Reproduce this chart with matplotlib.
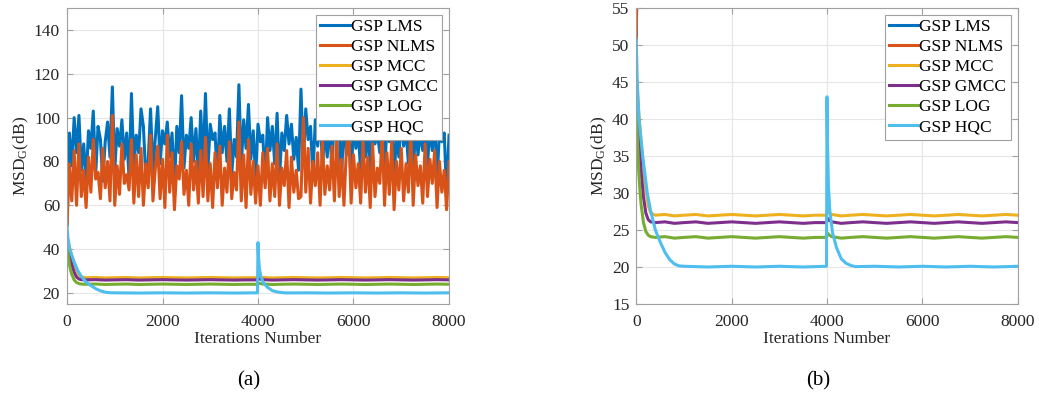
import numpy as np
import matplotlib
matplotlib.use("Agg")
import matplotlib.pyplot as plt

plt.rcParams['font.family'] = ['Liberation Serif', 'DejaVu Serif']
plt.rcParams['mathtext.fontset'] = 'custom'
plt.rcParams['mathtext.rm'] = 'Liberation Serif'
plt.rcParams['mathtext.it'] = 'Liberation Serif:italic'

# noisy algorithms, sampled every 50 iterations (0..8000)
lms_iter = np.arange(0, 8001, 50)
lms = [50.7, 93, 78, 100, 84, 101, 76, 88, 70, 94,
       86, 103, 74, 96, 90, 71, 89, 98, 82, 114,
       76, 95, 87, 99, 81, 93, 72, 111, 78, 92,
       84, 104, 96, 73, 80, 104, 75, 91, 105, 79,
       94, 88, 98, 82, 93, 68, 96, 84, 110, 77,
       92, 86, 100, 80, 95, 73, 103, 79, 111, 76,
       97, 90, 93, 72, 101, 84, 96, 80, 104, 74,
       90, 82, 115, 78, 99, 86, 106, 81, 94, 73,
       97, 89, 92, 70, 100, 85, 96, 79, 102, 72,
       93, 85, 101, 88, 97, 81, 91, 76, 113, 80,
       104, 90, 96, 73, 99, 87, 103, 78, 94, 82,
       100, 74, 107, 91, 95, 72, 101, 83, 97, 70,
       99, 86, 94, 75, 102, 82, 96, 71, 100, 88,
       93, 84, 104, 73, 97, 89, 103, 69, 95, 82,
       100, 87, 94, 79, 106, 72, 98, 83, 93, 85,
       101, 78, 96, 85, 99, 71, 94, 89, 93, 65,
       92]
nlms = [50.7, 79, 62, 85, 60, 88, 64, 76, 59, 82,
        66, 90, 72, 75, 63, 86, 68, 80, 62, 101,
        60, 78, 65, 88, 70, 74, 67, 90, 61, 83,
        64, 86, 60, 79, 68, 92, 62, 77, 87, 63,
        81, 59, 92, 66, 84, 58, 78, 72, 89, 65,
        76, 60, 88, 67, 80, 61, 85, 64, 91, 62,
        79, 59, 84, 68, 87, 60, 77, 66, 89, 63,
        75, 67, 98, 62, 83, 59, 90, 65, 80, 61,
        78, 60, 84, 68, 86, 62, 79, 64, 88, 60,
        77, 69, 85, 59, 82, 66, 76, 63, 64, 100,
        66, 86, 61, 80, 69, 84, 60, 89, 65, 78,
        67, 87, 62, 92, 64, 81, 60, 85, 96, 61,
        83, 68, 79, 61, 90, 66, 82, 59, 88, 64,
        77, 70, 93, 60, 84, 65, 89, 58, 80, 67,
        86, 62, 79, 66, 94, 60, 83, 69, 78, 61,
        88, 64, 81, 70, 85, 59, 80, 66, 76, 58,
        80]

# robust algorithms
conv_iter = [0, 25, 50, 75, 100, 150, 200, 250, 300, 400,
             600, 800, 1000, 1250, 1500, 1750, 2000, 2250, 2500, 2750,
             3000, 3250, 3500, 3750, 3990, 4000, 4025, 4050, 4100, 4200,
             4300, 4500, 4750, 5000, 5250, 5500, 5750, 6000, 6250, 6500,
             6750, 7000, 7250, 7500, 7750, 8000]
mcc = [46.0, 43.5, 41.0, 39.0, 37.0, 33.5, 30.5, 28.3, 27.3, 27.0,
       27.1, 26.9, 27.0, 27.1, 26.9, 27.0, 27.1, 27.0, 26.9, 27.0,
       27.1, 27.0, 26.9, 27.0, 27.0, 27.6, 27.5, 27.3, 27.1, 27.0,
       26.9, 27.0, 27.1, 27.0, 26.9, 27.0, 27.1, 27.0, 26.9, 27.0,
       27.1, 27.0, 26.9, 27.0, 27.1, 27.0]
gmcc = [44.0, 41.0, 38.0, 35.5, 33.0, 29.5, 27.3, 26.4, 26.1, 26.0,
        26.1, 25.9, 26.0, 26.1, 25.9, 26.0, 26.1, 26.0, 25.9, 26.0,
        26.1, 26.0, 25.9, 26.0, 26.0, 26.6, 26.5, 26.3, 26.1, 26.0,
        25.9, 26.0, 26.1, 26.0, 25.9, 26.0, 26.1, 26.0, 25.9, 26.0,
        26.1, 26.0, 25.9, 26.0, 26.1, 26.0]
log_ = [42.0, 37.0, 33.0, 30.5, 28.5, 26.0, 24.8, 24.3, 24.1, 24.0,
        24.1, 23.9, 24.0, 24.1, 23.9, 24.0, 24.1, 24.0, 23.9, 24.0,
        24.1, 24.0, 23.9, 24.0, 24.0, 24.6, 24.5, 24.3, 24.1, 24.0,
        23.9, 24.0, 24.1, 24.0, 23.9, 24.0, 24.1, 24.0, 23.9, 24.0,
        24.1, 24.0, 23.9, 24.0, 24.1, 24.0]

hqc_iter = [0, 20, 57, 134, 230, 300, 400, 500, 600, 700,
            800, 900, 1000, 1500, 2000, 2500, 3000, 3500, 3990, 4000,
            4010, 4030, 4060, 4117, 4200, 4300, 4400, 4500, 4600, 5000,
            5500, 6000, 6500, 7000, 7500, 8000]
hqc = [50.7, 45.0, 40.0, 35.0, 30.0, 27.6, 25.0, 23.4, 22.0, 21.0,
       20.4, 20.15, 20.1, 20.0, 20.1, 20.0, 20.1, 20.0, 20.1, 43.0,
       37.0, 31.0, 27.5, 24.6, 22.6, 21.1, 20.5, 20.2, 20.05, 20.1,
       20.0, 20.1, 20.0, 20.1, 20.0, 20.1]

labels = ["GSP LMS", "GSP NLMS", "GSP MCC", "GSP GMCC", "GSP LOG", "GSP HQC"]
colors = ["#0072BD", "#D95319", "#EDB120", "#7E2F8E", "#77AC30", "#4DBEEE"]

fig = plt.figure(figsize=(10.39, 3.98), dpi=100)
ax_a = fig.add_axes([67/1039, 1-304/398, 382/1039, 296/398])
ax_b = fig.add_axes([636.3/1039, 1-304/398, 381.4/1039, 296/398])

series = [(lms_iter, lms), (lms_iter, nlms), (conv_iter, mcc),
          (conv_iter, gmcc), (conv_iter, log_), (hqc_iter, hqc)]

for ax, ylim, yticks in [(ax_a, (15, 150), range(20, 141, 20)),
                         (ax_b, (15, 55), range(15, 56, 5))]:
    for (xs, ys), lab, c in zip(series, labels, colors):
        ax.plot(xs, ys, color=c, lw=2.2, label=lab)
    ax.set_xlim(0, 8000)
    ax.set_ylim(*ylim)
    ax.set_xticks([0, 2000, 4000, 6000, 8000])
    ax.set_yticks(list(yticks))
    ax.grid(True, color="#e6e6e6", lw=0.8)
    ax.set_axisbelow(True)
    for s in ax.spines.values():
        s.set_color("#a0a0a0")
        s.set_linewidth(0.8)
    ax.tick_params(direction="in", length=4, color="#a0a0a0", labelsize=12.5,
                   labelcolor="#262626", top=True, right=True, pad=5)
    ax.tick_params(axis="x", pad=7)
    ax.set_xlabel("Iterations Number", fontsize=12.5, labelpad=1, color="#262626")
    ax.set_ylabel(r"MSD$_\mathrm{G}$(dB)", fontsize=12.5, labelpad=2, color="#262626")
    leg = ax.legend(loc="upper right", fontsize=12.5, handlelength=1.75,
                    handletextpad=0.0, labelspacing=0.22, borderpad=0.25,
                    borderaxespad=0.4, fancybox=False, framealpha=1,
                    edgecolor="#a0a0a0")
    leg.get_frame().set_linewidth(0.8)

fig.text(249/1039, 1-381/398, "(a)", fontsize=15, ha="center", va="center")
fig.text(818/1039, 1-381/398, "(b)", fontsize=15, ha="center", va="center")

fig.savefig("out.png", dpi=100)
